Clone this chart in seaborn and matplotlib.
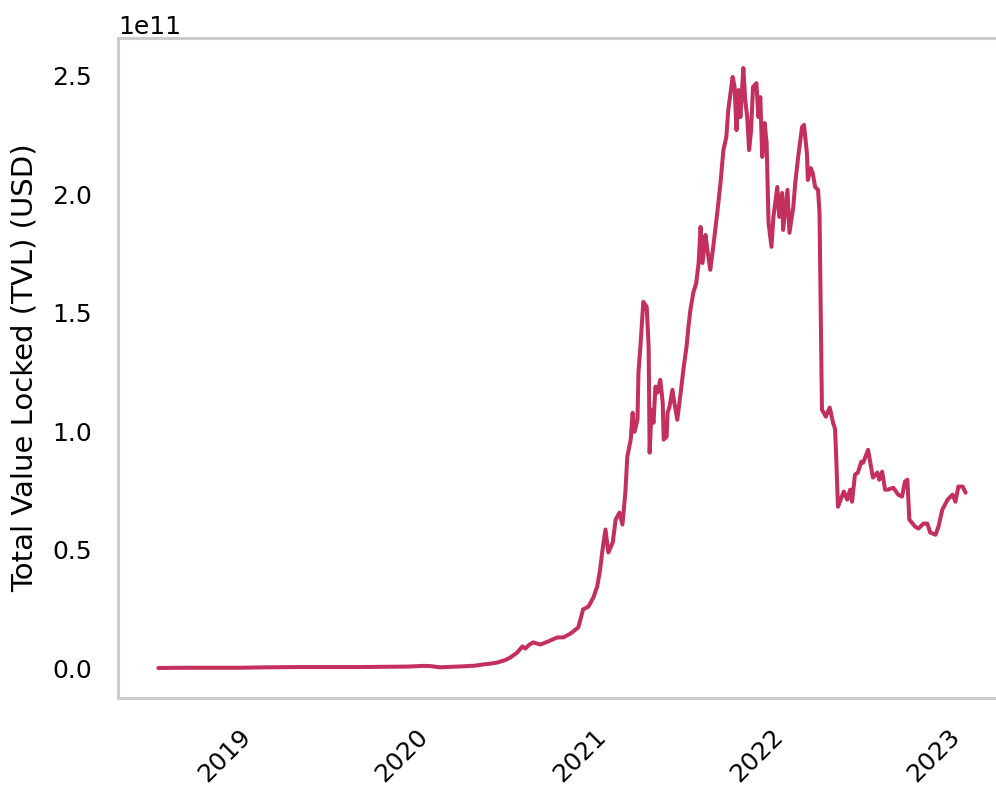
import matplotlib
matplotlib.use("Agg")
import matplotlib.pyplot as plt
import matplotlib.dates as mdates
import pandas as pd
import seaborn as sns

# Daily DeFi total value locked, sampled at turning points (billions of USD)
dates = [
    "2018-08-18", "2018-10-01", "2018-12-01", "2019-02-01", "2019-04-01",
    "2019-06-01", "2019-08-01", "2019-10-01", "2019-12-01", "2020-01-15",
    "2020-02-15", "2020-03-01", "2020-03-15", "2020-03-21", "2020-04-15",
    "2020-05-07", "2020-06-01", "2020-06-17", "2020-07-01", "2020-07-16",
    "2020-08-01", "2020-08-12", "2020-08-26", "2020-09-06", "2020-09-12",
    "2020-09-20", "2020-09-28", "2020-10-13", "2020-10-29", "2020-11-17",
    "2020-11-29", "2020-12-14", "2020-12-30", "2021-01-09", "2021-01-20",
    "2021-01-30", "2021-02-07", "2021-02-13", "2021-02-18", "2021-02-24",
    "2021-03-02", "2021-03-11", "2021-03-17", "2021-03-25", "2021-03-31",
    "2021-04-06", "2021-04-10", "2021-04-17", "2021-04-21", "2021-04-25",
    "2021-05-01", "2021-05-03", "2021-05-07", "2021-05-13", "2021-05-20",
    "2021-05-24", "2021-05-26", "2021-05-30", "2021-06-03", "2021-06-07",
    "2021-06-11", "2021-06-17", "2021-06-22", "2021-06-24", "2021-06-30",
    "2021-07-02", "2021-07-06", "2021-07-12", "2021-07-16", "2021-07-22",
    "2021-07-29", "2021-08-04", "2021-08-10", "2021-08-14", "2021-08-18",
    "2021-08-24", "2021-08-30", "2021-09-04", "2021-09-08", "2021-09-12",
    "2021-09-18", "2021-09-22", "2021-09-28", "2021-10-05", "2021-10-13",
    "2021-10-19", "2021-10-25", "2021-10-31", "2021-11-04", "2021-11-13",
    "2021-11-17", "2021-11-21", "2021-11-25", "2021-11-29", "2021-12-05",
    "2021-12-09", "2021-12-13", "2021-12-17", "2021-12-21", "2021-12-25",
    "2022-01-01", "2022-01-05", "2022-01-09", "2022-01-13", "2022-01-18",
    "2022-01-22", "2022-01-26", "2022-02-01", "2022-02-05", "2022-02-13",
    "2022-02-17", "2022-02-23", "2022-02-25", "2022-03-06", "2022-03-10",
    "2022-03-18", "2022-03-22", "2022-03-28", "2022-04-05", "2022-04-09",
    "2022-04-15", "2022-04-17", "2022-04-23", "2022-04-27", "2022-05-02",
    "2022-05-08", "2022-05-11", "2022-05-16", "2022-05-24", "2022-06-01",
    "2022-06-08", "2022-06-12", "2022-06-14", "2022-06-18", "2022-06-26",
    "2022-06-30", "2022-07-07", "2022-07-13", "2022-07-17", "2022-07-23",
    "2022-07-29", "2022-08-05", "2022-08-09", "2022-08-19", "2022-08-25",
    "2022-08-29", "2022-09-07", "2022-09-11", "2022-09-17", "2022-09-23",
    "2022-09-29", "2022-10-10", "2022-10-20", "2022-10-28", "2022-11-03",
    "2022-11-08", "2022-11-12", "2022-11-24", "2022-12-01", "2022-12-11",
    "2022-12-19", "2022-12-25", "2023-01-05", "2023-01-11", "2023-01-19",
    "2023-01-30", "2023-02-09", "2023-02-15", "2023-02-21", "2023-03-02",
    "2023-03-08",
]
tvl_billion = [
    0.2, 0.3, 0.3, 0.3, 0.5,
    0.6, 0.6, 0.6, 0.7, 0.8,
    1.1, 1.0, 0.6, 0.5, 0.7,
    0.9, 1.2, 1.7, 2.0, 2.5,
    3.5, 4.6, 6.7, 9.3, 8.4,
    10.0, 11.0, 10.1, 11.4, 13.1,
    13.1, 14.7, 17.3, 24.9, 26.1,
    29.9, 34.5, 41.7, 50.1, 58.6,
    48.9, 53.1, 62.8, 65.7, 60.7,
    74.1, 89.3, 96.5, 107.8, 99.8,
    104.9, 124.7, 135.6, 154.6, 152.5,
    135.6, 91.0, 109.1, 103.6, 118.8,
    116.3, 121.7, 112.0, 96.5, 97.7,
    107.8, 110.4, 117.5, 112.0, 104.9,
    116.3, 126.8, 135.6, 144.1, 151.2,
    158.4, 162.6, 171.0, 186.2, 171.0,
    182.8, 176.5, 168.1, 179.4, 193.3,
    204.7, 218.6, 224.1, 235.5, 249.4,
    245.2, 227.0, 243.9, 232.5, 253.2,
    239.7, 232.5, 218.6, 227.0, 245.2,
    246.8, 232.5, 240.9, 215.7, 230.0,
    221.6, 187.9, 177.8, 190.4, 203.0,
    190.4, 200.5, 184.9, 201.8, 183.7,
    194.6, 204.7, 215.7, 228.3, 229.2,
    217.4, 206.0, 211.0, 208.9, 203.0,
    201.8, 192.0, 109.1, 106.2, 110.0,
    103.6, 101.0, 91.0, 68.2, 72.5,
    74.6, 71.2, 75.4, 70.3, 81.7,
    82.6, 87.2, 86.8, 92.2, 85.1,
    80.5, 82.6, 79.6, 83.0, 75.4,
    75.4, 76.2, 73.3, 72.5, 78.8,
    79.6, 62.8, 59.8, 59.0, 61.1,
    61.1, 57.3, 56.4, 59.8, 67.0,
    71.2, 73.3, 70.3, 76.7, 76.7,
    74.1,
]

line_color = "#c4305e"

sns.set_theme(style="whitegrid", context="talk")
plt.rcParams["font.family"] = ["DejaVu Sans"]
plt.rcParams["text.color"] = "black"
plt.rcParams["axes.labelcolor"] = "black"
plt.rcParams["xtick.color"] = "black"
plt.rcParams["ytick.color"] = "black"

df = pd.DataFrame({
    "date": pd.to_datetime(dates),
    "tvl": [v * 1e9 for v in tvl_billion],
})

fig = plt.figure(figsize=(9.96, 7.89), dpi=100)
ax = fig.add_axes([118 / 996, 91 / 789, 888 / 996, 660 / 789])

sns.lineplot(data=df, x="date", y="tvl", ax=ax, color=line_color, linewidth=2.9)

ax.grid(False)
ax.set_xlabel("")
ax.set_ylabel("Total Value Locked (TVL) (USD)", fontsize=21, labelpad=10)
ax.set_yticks([0, 0.5e11, 1.0e11, 1.5e11, 2.0e11, 2.5e11])
ax.xaxis.set_major_locator(mdates.YearLocator())
ax.xaxis.set_major_formatter(mdates.DateFormatter("%Y"))
ax.tick_params(axis="both", length=0, labelsize=18)
ax.tick_params(axis="y", pad=18.5)
ax.tick_params(axis="x", pad=19)
ax.yaxis.get_offset_text().set_fontsize(18)
plt.setp(ax.get_xticklabels(), rotation=45)

for spine in ax.spines.values():
    spine.set_color("#cccccc")
    spine.set_linewidth(2.2)
ax.spines["right"].set_visible(False)

fig.savefig("out.png", dpi=100)
